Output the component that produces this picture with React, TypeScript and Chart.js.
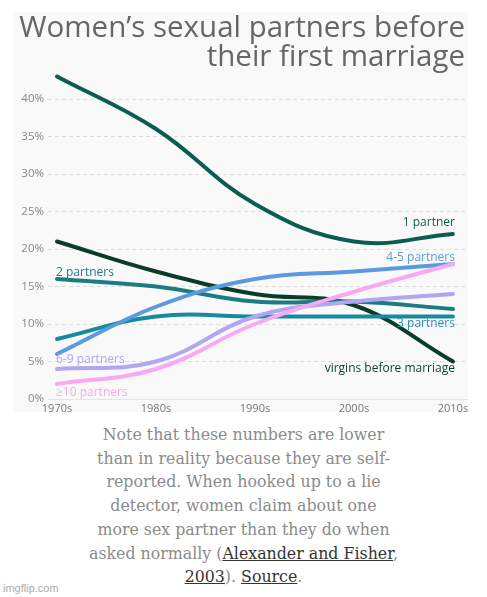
import React, { useEffect, useRef } from "react";
import { Chart, registerables } from "chart.js";
Chart.register(...registerables);

const decades = ["1970s", "1980s", "1990s", "2000s", "2010s"];
const yTickValues = [0, 5, 10, 15, 20, 25, 30, 35, 40];

const onePartner = [43, 36, 26, 21, 22];
const virgins = [21, 17, 14, 12.5, 5];
const twoPartners = [16, 15, 13, 13, 12];
const threePartners = [8, 11, 11, 11, 11];
const fourFivePartners = [6, 12.3, 16, 17, 18];
const sixNinePartners = [4, 5, 11, 13, 14];
const tenPlusPartners = [2, 4, 10, 14.3, 18];

const seriesNames = ["1 partner", "virgins before marriage", "2 partners", "3 partners", "4-5 partners", "6-9 partners", "≥10 partners"];
const seriesValues = [onePartner, virgins, twoPartners, threePartners, fourFivePartners, sixNinePartners, tenPlusPartners];
const seriesColors = ["#0b5e4f", "#0a3d28", "#1d7b83", "#1789a0", "#5a9ae0", "#b2a5f2", "#f7a9f2"];
const labelColors = ["#0b5e4f", "#0a3d28", "#1d7b83", "#2b8fb0", "#5a9ae0", "#b2a5f2", "#f7a9f2"];
const labelSides = ["right", "right", "left", "right", "right", "left", "left"];
const labelAt = [23.5, 4.1, 16.9, 10, 18.9, 5.2, 0.9];

const FONT = "'Open Sans', sans-serif";

const labelPlugin = {
  id: "seriesLabels",
  afterDatasetsDraw(chart: any) {
    const { ctx, scales } = chart;
    const x = scales.x;
    const y = scales.y;
    ctx.save();
    ctx.font = `12px ${FONT}`;
    ctx.textBaseline = "middle";
    seriesNames.forEach((name, i) => {
      const right = labelSides[i] === "right";
      const px = x.getPixelForValue(right ? decades.length - 1 : 0) + (right ? 2 : -1);
      ctx.textAlign = right ? "right" : "left";
      ctx.fillStyle = labelColors[i];
      ctx.fillText(name, px, y.getPixelForValue(labelAt[i]));
    });
    ctx.restore();
  },
};

function LineChart() {
  const ref = useRef<HTMLCanvasElement>(null);
  useEffect(() => {
    document.body.style.margin = "0";
    const chart = new Chart(ref.current!, {
      type: "line",
      data: {
        datasets: seriesNames.map((name, i) => ({
          label: name,
          data: seriesValues[i].map((v, j) => ({ x: j, y: v })),
          borderColor: seriesColors[i],
          backgroundColor: seriesColors[i],
          borderWidth: 4,
          pointRadius: 0,
          tension: 0.4,
          fill: false,
          order: seriesNames.length - i,
          borderCapStyle: "round",
        })),
      },
      options: {
        animation: false,
        responsive: false,
        maintainAspectRatio: false,
        layout: { padding: { top: 57, left: 0, right: 0, bottom: 0 } },
        plugins: { legend: { display: false }, tooltip: { enabled: false }, title: { display: false } },
        scales: {
          x: {
            type: "linear",
            min: -0.091,
            max: 4.152,
            grid: { display: false, drawTicks: false },
            border: { display: true, color: "#e4e4e4" },
            ticks: {
              padding: 3,
              color: "#777",
              font: { family: FONT, size: 11 },
              callback: (v: any) => decades[v] ?? "",
            },
            afterBuildTicks: (s: any) => {
              s.ticks = decades.map((_, i) => ({ value: i }));
            },
            afterFit: (s: any) => {
              s.paddingLeft = 0;
              s.paddingRight = 0;
              s.height = 20;
            },
          },
          y: {
            min: 0,
            max: 44,
            grid: { color: "#dddddd", lineWidth: 1, drawTicks: false },
            border: { display: false, dash: [4, 3] },
            ticks: {
              padding: 4,
              color: "#888",
              font: { family: FONT, size: 11.5 },
              callback: (v: any) => v + "%",
            },
            afterBuildTicks: (s: any) => {
              s.ticks = yTickValues.map((v) => ({ value: v }));
            },
            afterFit: (s: any) => {
              s.width = 35;
              s.paddingTop = 0;
              s.paddingBottom = 0;
            },
          },
        },
      },
      plugins: [labelPlugin],
    } as any);
    return () => chart.destroy();
  }, []);
  return <canvas ref={ref} width={455} height={407} style={{ display: "block" }} />;
}

export default function App() {
  return (
    <div style={{ position: "relative", width: 487, height: 597, background: "#fff", overflow: "hidden" }}>
      <div style={{ position: "absolute", left: 13, top: 12, width: 455, height: 400, background: "#f9f9f9", overflow: "hidden" }}>
        <LineChart />
      </div>
      <div
        style={{
          position: "absolute",
          right: 22,
          top: 12,
          textAlign: "right",
          fontFamily: FONT,
          fontSize: 29.5,
          lineHeight: "28.5px",
          color: "#666",
          whiteSpace: "nowrap",
        }}
      >
        Women’s sexual partners before
        <br />
        their first marriage
      </div>
      <div
        style={{
          position: "absolute",
          left: 0,
          width: 487,
          top: 423,
          textAlign: "center",
          fontFamily: "'DejaVu Serif', serif",
          fontSize: 15.8,
          lineHeight: "23.7px",
          color: "#8b8b8b",
          whiteSpace: "nowrap",
        }}
      >
        Note that these numbers are lower
        <br />
        than in reality because they are self-
        <br />
        reported. When hooked up to a lie
        <br />
        detector, women claim about one
        <br />
        more sex partner than they do when
        <br />
        asked normally (<span style={{ color: "#333", textDecoration: "underline" }}>Alexander and Fisher</span>,
        <br />
        <span style={{ color: "#333", textDecoration: "underline" }}>2003</span>).{" "}
        <span style={{ color: "#333", textDecoration: "underline" }}>Source</span>.
      </div>
      <div
        style={{
          position: "absolute",
          left: 3,
          top: 582,
          fontFamily: "'Liberation Sans', Arial, sans-serif",
          fontSize: 11,
          color: "#aaa",
        }}
      >
        imgflip.com
      </div>
    </div>
  );
}
